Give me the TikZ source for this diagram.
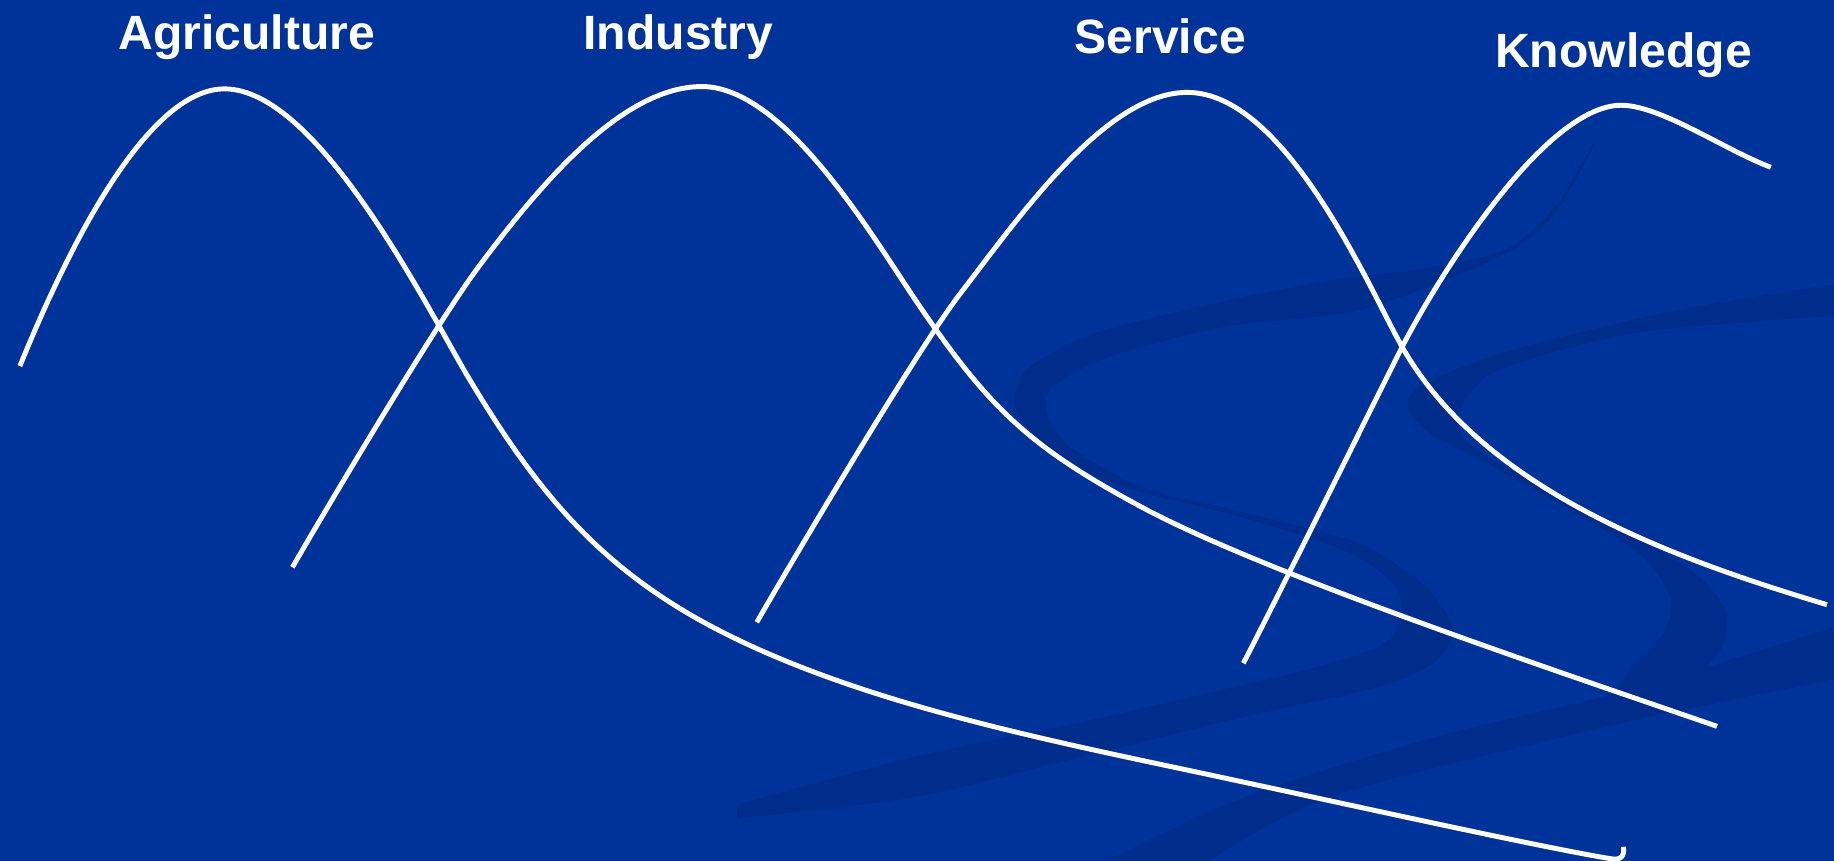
\documentclass[tikz,border=0pt]{standalone}
\usepackage{fontspec}
\setmainfont{Liberation Sans}
\begin{document}
\begin{tikzpicture}[x=0.1mm,y=-0.1mm]
\definecolor{bgblue}{RGB}{0,51,153}
\definecolor{swooshblue}{RGB}{0,45,140}
\tikzset{
  curve/.style={white,line width=1.2pt,line join=round},
  lbl/.style={text=white,font=\fontsize{11.7}{14}\selectfont\bfseries,anchor=base,inner sep=0pt},
  swoosh/.style={fill=swooshblue}
}
\useasboundingbox (0,0) rectangle (1568,736);
\fill[bgblue] (0,0) rectangle (1568,736);
\begin{scope}
\clip (0,0) rectangle (1568,736);
% swoosh 1
\fill[swoosh] plot[smooth,tension=0.5] coordinates {(1374,100) (1330,176) (1283,215) (1206,231) (1141,239) (1049,257) (935,285) (878,316) (868,348) (892,379) (949,413) (1060,442) (1150,471) (1192,500) (1198,528) (1180,552) (1127,570) (1060,586) (917,619) (785,646) (630,688)}
  -- plot[smooth,tension=0.5] coordinates {(630,700) (785,681) (917,649) (1060,614) (1180,587) (1228,565) (1242,538) (1225,508) (1205,490) (1158,463) (1060,437) (978,417) (915,382) (895,353) (900,331) (949,305) (1049,279) (1163,265) (1283,219) (1332,179) (1374,100)} -- cycle;
% swoosh 2 upper part
\fill[swoosh] plot[smooth,tension=0.5] coordinates {(1568,243) (1425,267) (1283,302) (1215,330) (1204,348) (1222,370) (1269,395) (1340,435) (1400,472) (1428,510) (1423,540) (1395,570) (1380,595)}
  -- plot[smooth,tension=0.5] coordinates {(1440,585) (1470,558) (1476,525) (1455,495) (1410,465) (1340,428) (1262,384) (1246,362) (1253,342) (1283,316) (1397,285) (1568,270)} -- cycle;
% swoosh 2 band
\fill[swoosh] plot[smooth,tension=0.5] coordinates {(1568,536) (1400,588) (1220,632) (1060,683) (946,736)}
  -- plot[smooth,tension=0.5] coordinates {(1034,736) (1139,681) (1375,621) (1568,581)} -- cycle;
\end{scope}
% Agriculture curve
\coordinate (a0) at (17,313);
\coordinate (a5) at (1388,724);
\draw[curve] (a0) .. controls (65,195) and (130,76) .. (192,76)
  .. controls (272,76) and (365,263) .. (400,322)
  .. controls (454,412) and (505,478) .. (598,530)
  .. controls (729,603) and (913,636) .. (1060,668)
  .. controls (1158,689) and (1316,724) .. (1376,734)
  .. controls (1386,736) and (1389,732) .. (a5);
% Industry curve
\coordinate (b0) at (250,485);
\coordinate (b5) at (1468,621);
\draw[curve] (b0) .. controls (280,433) and (374,275) .. (410,227)
  .. controls (458,163) and (530,74) .. (600,74)
  .. controls (670,74) and (744,199) .. (783,257)
  .. controls (844.8,348) and (878.2,380.8) .. (975,433)
  .. controls (1080.6,490) and (1326,572) .. (b5);
% Service curve
\coordinate (c0) at (647,532);
\coordinate (c4) at (1562,517);
\draw[curve] (c0) .. controls (677,480) and (784.4,298.4) .. (821,251)
  .. controls (869.8,187.6) and (945,79) .. (1015,79)
  .. controls (1100,79) and (1171.7,249.3) .. (1199,297)
  .. controls (1268.4,418.5) and (1427.9,476.8) .. (c4);
% Knowledge curve
\coordinate (d0) at (1063,567);
\coordinate (d3) at (1514,143);
\draw[curve] (d0) .. controls (1084,527) and (1179,336) .. (1199,296)
  .. controls (1241,216.4) and (1326,90) .. (1386,90)
  .. controls (1420,90) and (1476,129) .. (d3);
% labels
\node[lbl] (agri) at (211,42) {Agriculture};
\node[lbl] (ind) at (580,42) {Industry};
\node[lbl] (serv) at (992,46) {Service};
\node[lbl] (know) at (1388,58) {Knowledge};
\end{tikzpicture}
\end{document}
